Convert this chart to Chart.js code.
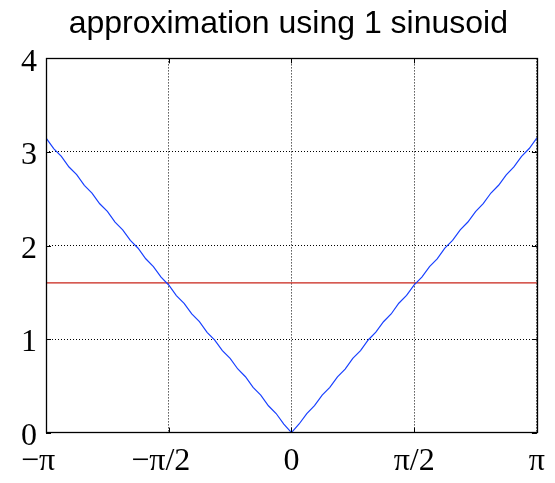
<!DOCTYPE html>
<html>
<head>
<meta charset="utf-8">
<script src="https://cdn.jsdelivr.net/npm/chart.js@4"></script>
<style>
  html, body { margin: 0; padding: 0; background: #fff; }
</style>
</head>
<body>
<canvas id="approxChart" width="555" height="483"></canvas>
<script>
// ─── Data ─────────────────────────────────────────────────────────────────────

// sample points of the target signal |x| on [-π, π]
const signalX = [
  -3.142, -3.043, -2.945, -2.847, -2.749, -2.651, -2.553, -2.454, -2.356, -2.258,
  -2.160, -2.062, -1.963, -1.865, -1.767, -1.669, -1.571, -1.473, -1.374, -1.276,
  -1.178, -1.080, -0.982, -0.884, -0.785, -0.687, -0.589, -0.491, -0.393, -0.295,
  -0.196, -0.098, 0.000,
  0.098, 0.196, 0.295, 0.393, 0.491, 0.589, 0.687, 0.785, 0.884, 0.982,
  1.080, 1.178, 1.276, 1.374, 1.473, 1.571, 1.669, 1.767, 1.865, 1.963,
  2.062, 2.160, 2.258, 2.356, 2.454, 2.553, 2.651, 2.749, 2.847, 2.945,
  3.043, 3.142,
];
const signalY = [
  3.150, 3.036, 2.953, 2.839, 2.757, 2.643, 2.560, 2.446, 2.364, 2.250,
  2.167, 2.054, 1.971, 1.858, 1.775, 1.661, 1.578, 1.465, 1.382, 1.269,
  1.186, 1.072, 0.989, 0.876, 0.793, 0.680, 0.597, 0.483, 0.400, 0.287,
  0.204, 0.091, 0.000,
  0.092, 0.203, 0.288, 0.401, 0.484, 0.596, 0.679, 0.794, 0.877, 0.990,
  1.073, 1.185, 1.268, 1.383, 1.466, 1.579, 1.662, 1.774, 1.857, 1.972,
  2.055, 2.168, 2.251, 2.363, 2.447, 2.561, 2.644, 2.756, 2.840, 2.952,
  3.037, 3.150,
];

// single-term approximation (flat line)
const approxX = [-3.142, 3.142];
const approxY = [1.6, 1.6];

const xTickValues = [-Math.PI, -Math.PI / 2, 0, Math.PI / 2, Math.PI];
// en space after the minus labels keeps the π part centred on the tick
const xTickLabels = ['\u2212\u03c0\u2002', '\u2212\u03c0/2\u2002', '0', '\u03c0/2', '\u03c0'];
const yTickValues = [0, 1, 2, 3, 4];

const toPoints = (xs, ys) => xs.map((x, i) => ({ x, y: ys[i] }));

// ─── Box frame with inward tick marks ─────────────────────────────────────────

const frameBox = {
  id: 'frameBox',
  afterDatasetsDraw(chart) {
    const { ctx, chartArea: a, scales } = chart;
    const len = 5;
    ctx.save();
    ctx.strokeStyle = '#000';
    ctx.lineWidth = 1;
    ctx.beginPath();
    xTickValues.forEach((v) => {
      const px = Math.round(scales.x.getPixelForValue(v)) + 0.5;
      ctx.moveTo(px, a.bottom); ctx.lineTo(px, a.bottom - len);
      ctx.moveTo(px, a.top); ctx.lineTo(px, a.top + len);
    });
    yTickValues.forEach((v) => {
      const py = Math.round(scales.y.getPixelForValue(v)) + 0.5;
      ctx.moveTo(a.left, py); ctx.lineTo(a.left + len, py);
      ctx.moveTo(a.right, py); ctx.lineTo(a.right - len, py);
    });
    ctx.stroke();
    ctx.lineWidth = 1.3;
    ctx.strokeRect(Math.round(a.left) + 0.5, Math.round(a.top) + 0.5,
      Math.round(a.right - a.left), Math.round(a.bottom - a.top));
    ctx.restore();
  },
};

// ─── Chart ────────────────────────────────────────────────────────────────────

new Chart(document.getElementById('approxChart'), {
  type: 'line',
  data: {
    datasets: [
      {
        label: '|x|',
        data: toPoints(signalX, signalY),
        borderColor: 'rgb(25,65,255)',
        borderWidth: 1.2,
        pointRadius: 0,
        tension: 0,
      },
      {
        label: 'approximation',
        data: toPoints(approxX, approxY),
        borderColor: 'rgb(200,35,25)',
        borderWidth: 1.2,
        pointRadius: 0,
        tension: 0,
      },
    ],
  },
  options: {
    responsive: false,
    animation: false,
    layout: { padding: { left: 12, right: 17, top: 0, bottom: -8 } },
    plugins: {
      legend: { display: false },
      tooltip: { enabled: false },
      title: {
        display: true,
        // leading spaces push the centred title over the plot box
        text: '   approximation using 1 sinusoid',
        color: '#000',
        font: { family: 'Liberation Sans', size: 32, weight: 'normal' },
        padding: { top: 5, bottom: 15 },
      },
    },
    scales: {
      x: {
        type: 'linear',
        min: -Math.PI,
        max: Math.PI,
        afterBuildTicks: (scale) => { scale.ticks = xTickValues.map((value) => ({ value })); },
        grid: { color: '#000', lineWidth: 1, drawTicks: false },
        border: { display: false, dash: [1, 2] },
        ticks: {
          autoSkip: false,
          maxRotation: 0,
          padding: 10,
          color: '#000',
          font: { family: 'Liberation Serif', size: 32 },
          callback: (value, i) => xTickLabels[i],
        },
      },
      y: {
        type: 'linear',
        min: 0,
        max: 4,
        afterBuildTicks: (scale) => { scale.ticks = yTickValues.map((value) => ({ value })); },
        grid: { color: '#000', lineWidth: 1, drawTicks: false },
        border: { display: false, dash: [1, 2] },
        ticks: {
          padding: 9,
          labelOffset: 4,
          color: '#000',
          font: { family: 'Liberation Serif', size: 32 },
          callback: (value) => String(value),
        },
      },
    },
  },
  plugins: [frameBox],
});
</script>
</body>
</html>
